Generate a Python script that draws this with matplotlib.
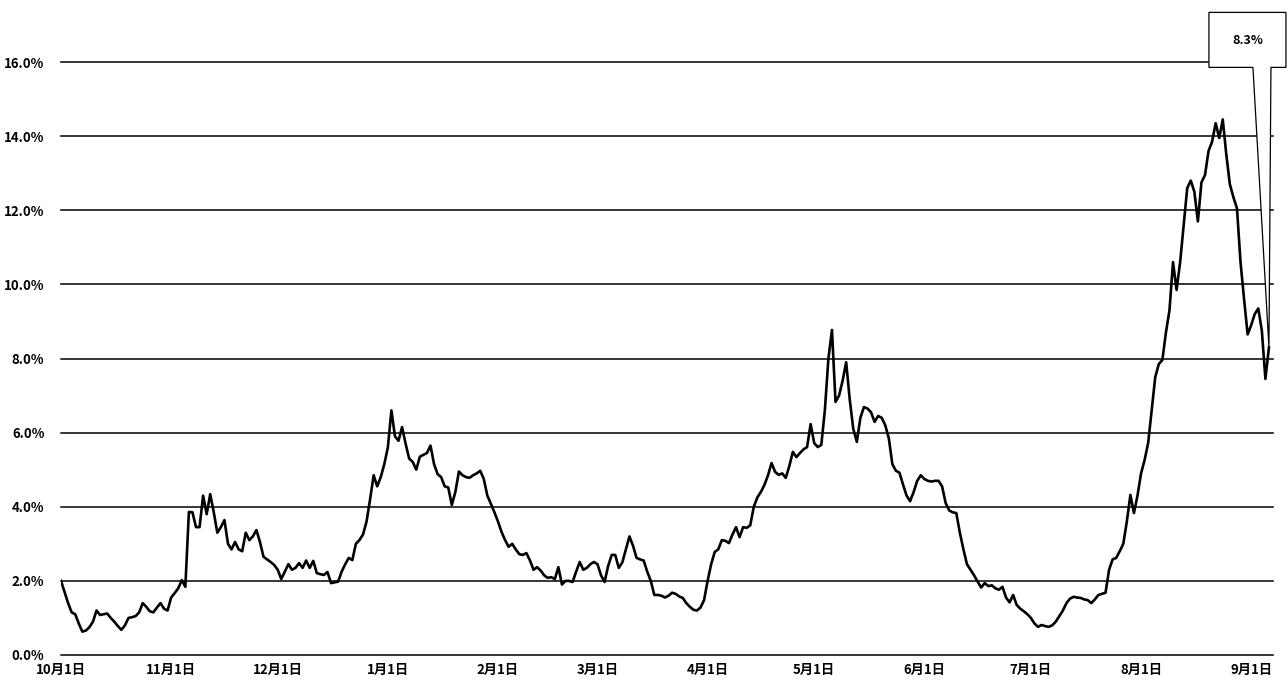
import matplotlib
matplotlib.use("Agg")
import matplotlib.pyplot as plt
from matplotlib.patches import Polygon
import numpy as np
import pandas as pd

plt.rcParams["font.family"] = ["Noto Sans CJK JP", "DejaVu Sans"]

# ── data: daily rate (%) from Oct 1 ───────────────────────────────────────
start = pd.Timestamp("2006-10-01")
month_starts = pd.date_range(start, periods=12, freq="MS")
tick_days = (month_starts - start).days
tick_labels = [f"{d.month}月1日" for d in month_starts]

rate = [
    2.00, 1.70, 1.40, 1.15, 1.10, 0.85, 0.63, 0.66, 0.75, 0.90,
    1.20, 1.08, 1.10, 1.12, 1.00, 0.90, 0.78, 0.68, 0.80, 1.00,
    1.02, 1.05, 1.15, 1.40, 1.30, 1.18, 1.15, 1.28, 1.40, 1.25,
    1.20, 1.55, 1.67, 1.80, 2.02, 1.84, 3.86, 3.85, 3.45, 3.45,
    4.30, 3.80, 4.34, 3.85, 3.30, 3.45, 3.64, 3.00, 2.85, 3.05,
    2.85, 2.80, 3.30, 3.10, 3.20, 3.37, 3.05, 2.65, 2.58, 2.51,
    2.43, 2.30, 2.05, 2.25, 2.45, 2.30, 2.35, 2.48, 2.35, 2.55,
    2.35, 2.54, 2.21, 2.18, 2.16, 2.24, 1.94, 1.96, 1.98, 2.25,
    2.45, 2.62, 2.56, 3.00, 3.10, 3.25, 3.60, 4.20, 4.85, 4.55,
    4.80, 5.15, 5.60, 6.60, 5.90, 5.78, 6.15, 5.70, 5.30, 5.21,
    5.00, 5.35, 5.40, 5.45, 5.65, 5.15, 4.88, 4.80, 4.55, 4.52,
    4.05, 4.40, 4.95, 4.85, 4.80, 4.78, 4.85, 4.90, 4.97, 4.75,
    4.30, 4.08, 3.85, 3.60, 3.32, 3.10, 2.92, 3.00, 2.85, 2.72,
    2.70, 2.75, 2.55, 2.30, 2.37, 2.28, 2.15, 2.08, 2.10, 2.05,
    2.37, 1.90, 2.00, 2.00, 1.97, 2.25, 2.51, 2.30, 2.35, 2.45,
    2.51, 2.45, 2.15, 1.97, 2.40, 2.70, 2.70, 2.35, 2.50, 2.85,
    3.20, 2.95, 2.62, 2.58, 2.55, 2.25, 2.00, 1.62, 1.62, 1.60,
    1.55, 1.60, 1.68, 1.65, 1.58, 1.54, 1.40, 1.30, 1.22, 1.20,
    1.28, 1.48, 2.00, 2.45, 2.78, 2.85, 3.10, 3.08, 3.02, 3.25,
    3.45, 3.18, 3.45, 3.43, 3.50, 4.00, 4.25, 4.40, 4.59, 4.85,
    5.18, 4.94, 4.86, 4.90, 4.78, 5.10, 5.48, 5.34, 5.45, 5.55,
    5.61, 6.23, 5.72, 5.61, 5.67, 6.60, 8.00, 8.77, 6.83, 7.00,
    7.40, 7.90, 6.90, 6.10, 5.75, 6.40, 6.69, 6.65, 6.55, 6.29,
    6.45, 6.40, 6.20, 5.85, 5.15, 4.97, 4.92, 4.60, 4.30, 4.15,
    4.40, 4.70, 4.85, 4.75, 4.70, 4.68, 4.70, 4.70, 4.55, 4.10,
    3.90, 3.85, 3.83, 3.30, 2.85, 2.45, 2.30, 2.15, 1.98, 1.82,
    1.94, 1.86, 1.88, 1.80, 1.76, 1.84, 1.55, 1.42, 1.62, 1.35,
    1.25, 1.18, 1.10, 1.00, 0.85, 0.76, 0.81, 0.78, 0.76, 0.80,
    0.90, 1.05, 1.20, 1.40, 1.52, 1.57, 1.55, 1.54, 1.50, 1.48,
    1.40, 1.50, 1.62, 1.65, 1.68, 2.30, 2.58, 2.62, 2.80, 3.00,
    3.60, 4.32, 3.83, 4.30, 4.90, 5.26, 5.72, 6.60, 7.50, 7.85,
    7.96, 8.70, 9.30, 10.60, 9.85, 10.60, 11.60, 12.60, 12.80, 12.50,
    11.70, 12.75, 12.95, 13.60, 13.85, 14.35, 13.95, 14.45, 13.50, 12.70,
    12.35, 12.05, 10.60, 9.60, 8.65, 8.90, 9.20, 9.35, 8.75, 7.45,
    8.30,
]
days = np.arange(len(rate))
last_label = f"{rate[-1]:.1f}%"

# ── figure ────────────────────────────────────────────────────────────────
W, H = 1288, 687
fig = plt.figure(figsize=(W / 100, H / 100), dpi=100)
ax = fig.add_axes([61 / W, 1 - 655 / H, (1272.5 - 61) / W, (655 - 62) / H])

ax.plot(days, rate, color="black", lw=1.9, zorder=3)

ax.set_xlim(0, 341)
ax.set_ylim(0, 16)
ax.set_yticks(np.arange(0, 17, 2))
ax.set_yticklabels([f"{v:.1f}%" for v in np.arange(0, 17, 2)])
ax.set_xticks(tick_days)
ax.set_xticklabels(tick_labels)
ax.tick_params(axis="both", length=0, labelsize=9.5)
ax.tick_params(axis="y", pad=12)
ax.tick_params(axis="x", pad=6)
for lbl in ax.get_xticklabels() + ax.get_yticklabels():
    lbl.set_fontweight("bold")
ax.grid(axis="y", color="black", lw=1.1)
ax.set_axisbelow(True)
for gl in ax.get_ygridlines():
    gl.set_clip_on(False)
for s in ax.spines.values():
    s.set_visible(False)

# ── callout on the last point ─────────────────────────────────────────────
tip = ax.transData.transform((days[-1], rate[-1]))
offsets = [(-60, 280), (-60, 335), (17, 335), (17, 280),
           (2, 280), (0, 0), (-16, 280)]
verts = ax.transData.inverted().transform([(tip[0] + dx, tip[1] + dy) for dx, dy in offsets])
ax.add_patch(Polygon(verts, closed=True, fc="white", ec="black", lw=0.9,
                     clip_on=False, zorder=4))
tx, ty = ax.transData.inverted().transform((tip[0] - 21, tip[1] + 307))
ax.text(tx, ty, last_label, ha="center", va="center", fontsize=9,
        fontweight="bold", zorder=5, clip_on=False)

fig.savefig("out.png", dpi=100)
